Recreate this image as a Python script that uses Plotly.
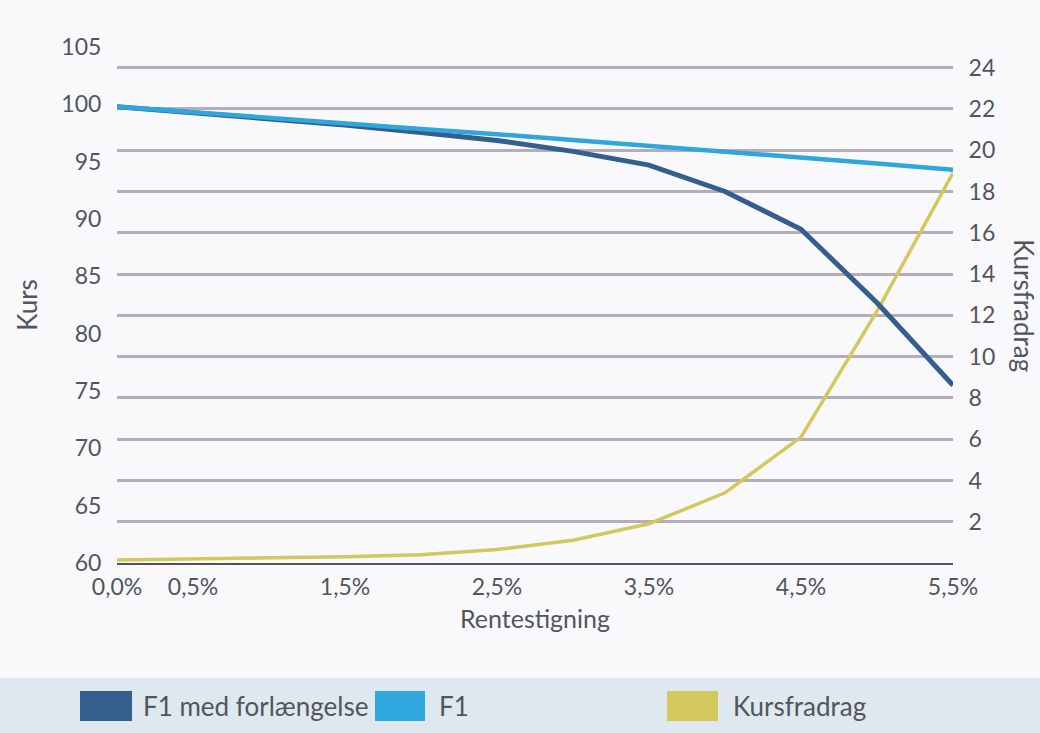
import plotly.graph_objects as go

# ---- data ----
rente = [0.0, 0.5, 1.0, 1.5, 2.0, 2.5, 3.0, 3.5, 4.0, 4.5, 5.0, 5.5]
f1_forl = [99.8, 99.3, 98.8, 98.2, 97.55, 96.85, 95.9, 94.7, 92.4, 89.1, 82.7, 75.5]
f1 = [99.8, 99.3, 98.8, 98.3, 97.85, 97.4, 96.9, 96.4, 95.9, 95.35, 94.85, 94.3]
kursfradrag = [0.15, 0.2, 0.25, 0.3, 0.4, 0.65, 1.1, 1.9, 3.4, 6.1, 12.2, 18.9]

x_tickvals = [0.0, 0.5, 1.5, 2.5, 3.5, 4.5, 5.5]
x_ticktext = ["0,0%", "0,5%", "1,5%", "2,5%", "3,5%", "4,5%", "5,5%"]
kurs_ticks = [60, 65, 70, 75, 80, 85, 90, 95, 100, 105]
fradrag_ticks = [2, 4, 6, 8, 10, 12, 14, 16, 18, 20, 22, 24]

names = ["F1 med forlængelse", "F1", "Kursfradrag"]
colors = ["#335e8e", "#2fa6dc", "#d3c85c"]

FONT = "Lato"
TXT = "#50565e"

fig = go.Figure()
# Kursfradrag on the primary (right) axis so it sits beneath the Kurs lines
fig.add_trace(go.Scatter(x=rente, y=kursfradrag, mode="lines", name=names[2],
                         line=dict(color=colors[2], width=3.5), yaxis="y",
                         showlegend=False))
fig.add_trace(go.Scatter(x=rente, y=f1_forl, mode="lines", name=names[0],
                         line=dict(color=colors[0], width=5), yaxis="y2",
                         showlegend=False))
fig.add_trace(go.Scatter(x=rente, y=f1, mode="lines", name=names[1],
                         line=dict(color=colors[1], width=4.5), yaxis="y2",
                         showlegend=False))

PW, PH, L, T = 836, 516, 117, 47

def px(x):
    return (x - L) / PW

def py(y):
    return (T + PH - y) / PH

# legend drawn as swatches + labels in a band at the bottom
shapes = [dict(type="rect", xref="paper", yref="paper", layer="below",
               x0=px(0), x1=px(1040), y0=py(733), y1=py(678),
               fillcolor="#dfe7ef", line=dict(width=0))]
annotations = []
leg_x = [80, 375, 667]
leg_w = [52, 50, 51]
txt_x = [141, 437, 731]
for i in range(3):
    shapes.append(dict(type="rect", xref="paper", yref="paper",
                       x0=px(leg_x[i]), x1=px(leg_x[i] + leg_w[i]),
                       y0=py(721), y1=py(691),
                       fillcolor=colors[i], line=dict(width=0)))
    annotations.append(dict(xref="paper", yref="paper", x=px(txt_x[i]),
                            y=py(706), xanchor="left", yanchor="middle",
                            text=names[i], showarrow=False,
                            font=dict(family=FONT, size=26, color=TXT)))

annotations.append(dict(xref="paper", yref="paper", x=px(1024),
                        y=py(305), text="Kursfradrag", textangle=90,
                        showarrow=False, xanchor="center", yanchor="middle",
                        font=dict(family=FONT, size=26, color=TXT)))

fig.update_layout(
    width=1040, height=733,
    margin=dict(l=117, r=87, t=47, b=170),
    paper_bgcolor="#f9f9fb", plot_bgcolor="#f9f9fb",
    font=dict(family=FONT, size=23, color=TXT),
    xaxis=dict(range=[0, 5.5], tickvals=x_tickvals, ticktext=x_ticktext,
               showgrid=False, zeroline=False, showline=True,
               linecolor="#4f5257", linewidth=2,
               ticks="outside", ticklen=2, tickcolor="rgba(0,0,0,0)",
               tickfont=dict(family=FONT, size=23, color=TXT),
               title=dict(text="Rentestigning", standoff=12,
                          font=dict(family=FONT, size=25, color=TXT))),
    yaxis=dict(range=[0, 25], side="right", tickvals=fradrag_ticks,
               showgrid=True, gridcolor="#b4aebb", gridwidth=2.5,
               zeroline=False, showline=False,
               ticks="outside", ticklen=10, tickcolor="rgba(0,0,0,0)",
               tickfont=dict(family=FONT, size=23, color=TXT)),
    yaxis2=dict(range=[60, 105], side="left", overlaying="y",
                tickvals=kurs_ticks, showgrid=False, zeroline=False,
                showline=False,
                ticks="outside", ticklen=10, tickcolor="rgba(0,0,0,0)",
                tickfont=dict(family=FONT, size=23, color=TXT),
                title=dict(text="Kurs", standoff=16,
                           font=dict(family=FONT, size=26, color=TXT))),
    shapes=shapes, annotations=annotations,
    showlegend=False,
)

fig.write_html("out.html", config={"displayModeBar": False},
               post_script="document.body.style.margin='0';document.body.style.background='#f9f9fb';")
